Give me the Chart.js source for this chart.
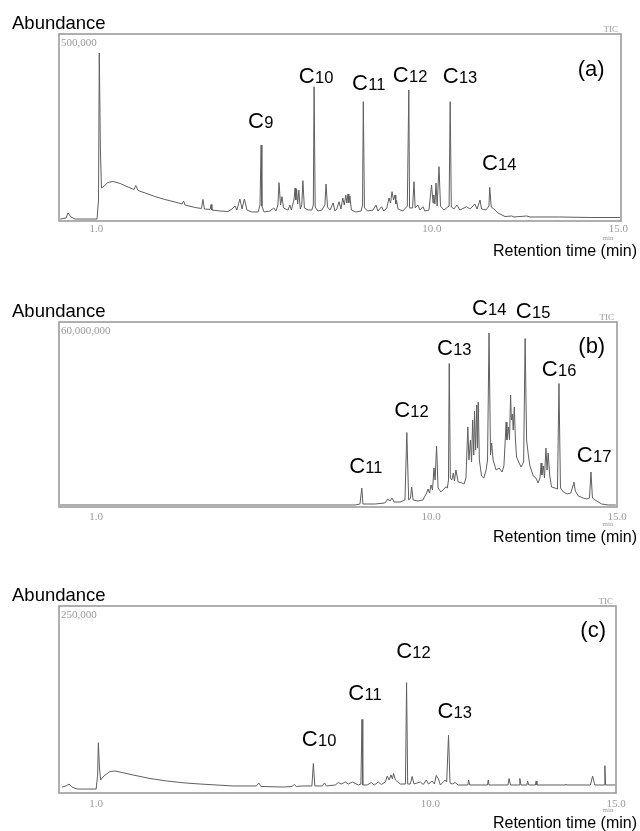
<!DOCTYPE html>
<html><head><meta charset="utf-8">
<script src="https://cdn.jsdelivr.net/npm/chart.js@4.4.0/dist/chart.umd.min.js"></script>
<style>
html,body{margin:0;padding:0;background:#fff;width:640px;height:831px;overflow:hidden}
canvas{position:absolute;left:0}
</style></head><body>
<canvas id="ca" width="640" height="280" style="top:0px"></canvas>
<canvas id="cb" width="640" height="280" style="top:285px"></canvas>
<canvas id="cc" width="640" height="261" style="top:570px"></canvas>
<script>
// ---------- DATA ----------
// x tick labels (retention time, min)
const tickMinutes = [1.0, 10.0, 15.0];

// Panel (a): abundance in thousands of counts (full scale 500,000)
const timeA = [0.03,0.19,0.24,0.32,0.43,1.02,1.06,1.08,1.11,1.14,1.21,1.31,1.45,1.64,1.85,2.01,2.06,2.12,2.31,2.57,2.84,3.11,3.30,3.34,3.38,3.65,3.82,3.86,3.90,4.05,4.08,4.10,4.32,4.53,4.64,4.72,4.77,4.85,4.91,4.97,5.04,5.17,5.34,5.39,5.42,5.44,5.50,5.66,5.76,5.82,5.87,5.90,5.94,5.98,6.02,6.14,6.19,6.23,6.30,6.33,6.35,6.37,6.40,6.43,6.47,6.51,6.54,6.58,6.68,6.78,6.82,6.84,6.87,6.94,7.05,7.13,7.16,7.20,7.27,7.35,7.40,7.45,7.51,7.56,7.61,7.65,7.69,7.72,7.75,7.77,7.80,7.84,7.96,8.10,8.14,8.16,8.19,8.28,8.42,8.50,8.55,8.65,8.71,8.79,8.85,8.89,8.93,8.97,9.01,9.03,9.05,9.09,9.22,9.34,9.38,9.40,9.48,9.52,9.55,9.62,9.68,9.76,9.81,9.92,9.99,10.03,10.05,10.08,10.11,10.14,10.19,10.23,10.32,10.46,10.49,10.52,10.59,10.67,10.75,10.93,11.02,11.10,11.15,11.21,11.29,11.33,11.45,11.53,11.55,11.59,11.66,11.77,11.96,12.14,12.20,12.54,12.63,13.43,14.24,15.04];
const abundA = [5.3,8.0,21.4,10.7,5.3,5.3,56.2,449.2,189.9,88.2,93.6,102.9,105.6,100.3,90.9,84.2,94.9,81.6,74.9,65.5,57.5,50.8,45.5,53.5,42.8,36.1,33.4,57.5,32.1,30.8,44.1,29.4,26.7,25.4,32.1,40.1,29.4,58.8,32.1,58.8,29.4,24.1,24.1,42.8,203.2,40.1,24.1,26.7,34.8,26.7,42.8,102.4,42.8,65.0,34.8,29.4,42.8,29.4,56.2,88.2,56.2,85.6,45.5,82.9,32.1,42.8,107.8,34.8,29.4,29.4,42.8,359.1,37.4,26.7,29.4,42.8,98.9,37.4,29.4,48.1,26.7,32.1,51.6,32.1,61.5,42.8,69.5,48.1,72.2,48.1,66.9,29.4,24.1,26.7,42.8,319.0,34.8,26.7,29.4,42.8,26.7,38.2,26.7,34.8,61.5,48.1,78.3,56.2,69.5,45.5,56.2,32.1,26.7,40.1,350.3,34.8,34.8,105.1,34.8,42.8,29.4,38.2,26.7,29.4,96.3,48.1,69.5,45.5,101.6,40.1,145.2,40.1,29.4,40.1,319.0,37.4,32.1,42.8,29.4,38.2,32.1,40.1,45.5,32.1,56.2,32.1,29.4,40.1,90.1,37.4,32.1,21.4,12.0,13.4,10.7,13.4,10.7,10.7,9.4,9.4];

// Panel (b): abundance in millions of counts (full scale 60,000,000)
const timeB = [0.03,3.79,6.48,7.96,8.09,8.14,8.17,8.49,8.76,8.84,8.90,8.95,9.01,9.17,9.30,9.35,9.40,9.45,9.48,9.52,9.65,9.78,9.87,9.92,9.96,10.00,10.04,10.08,10.11,10.15,10.19,10.27,10.35,10.40,10.44,10.47,10.49,10.52,10.56,10.60,10.63,10.67,10.73,10.83,10.89,10.94,10.99,11.02,11.06,11.09,11.12,11.15,11.17,11.20,11.23,11.25,11.27,11.30,11.36,11.42,11.48,11.52,11.56,11.60,11.63,11.67,11.75,11.83,11.91,11.96,12.02,12.04,12.08,12.11,12.14,12.16,12.19,12.21,12.24,12.27,12.30,12.37,12.42,12.49,12.53,12.57,12.62,12.66,12.75,12.82,12.88,12.93,12.96,12.98,13.02,13.05,13.09,13.12,13.15,13.19,13.24,13.33,13.40,13.44,13.48,13.56,13.66,13.76,13.82,13.84,13.88,13.96,14.09,14.19,14.26,14.30,14.34,14.41,14.59,14.76,14.97];
const abundB = [0.65,0.65,0.65,0.65,0.97,6.16,0.97,0.97,1.30,2.59,1.95,2.92,1.62,1.62,2.27,24.16,2.27,2.92,6.49,2.27,1.95,2.27,4.22,5.84,4.54,7.13,5.51,12.65,8.76,19.78,6.16,4.86,5.84,6.58,6.16,8.76,46.54,9.40,8.76,11.03,8.43,12.00,8.11,7.78,7.46,9.40,25.94,15.24,21.73,14.59,28.21,16.86,31.13,18.49,33.08,19.13,34.05,15.24,10.05,9.40,12.00,15.24,56.43,16.86,20.76,15.24,12.00,12.65,11.35,13.30,27.57,21.73,25.94,21.73,36.32,28.21,30.16,24.97,32.43,21.73,16.22,14.27,12.97,14.59,54.65,21.73,16.54,13.30,10.05,9.40,7.78,9.40,14.27,10.38,13.30,9.40,19.13,12.00,17.51,10.38,6.49,6.16,5.84,40.05,6.16,4.86,4.22,4.54,7.13,8.11,5.19,3.57,2.92,2.59,2.92,11.35,2.92,2.27,0.97,0.65,0.65];

// Panel (c): abundance in thousands of counts (full scale 250,000)
const timeC = [0.08,0.19,0.27,0.35,0.49,1.00,1.04,1.06,1.09,1.12,1.21,1.37,1.51,1.70,1.99,2.45,2.91,3.40,3.80,4.69,5.31,5.38,5.44,6.04,6.28,6.33,6.39,6.54,6.81,6.85,6.89,7.09,7.15,7.20,7.44,7.52,7.60,7.71,7.79,7.90,8.06,8.13,8.16,8.18,8.30,8.41,8.49,8.60,8.68,8.79,8.84,8.89,8.94,8.98,9.01,9.06,9.19,9.33,9.36,9.39,9.46,9.51,9.56,9.73,9.81,9.89,9.95,10.05,10.11,10.16,10.22,10.27,10.40,10.44,10.49,10.53,10.59,10.67,10.75,11.01,11.03,11.06,11.54,11.56,11.58,12.09,12.12,12.16,12.39,12.41,12.44,12.60,12.62,12.65,12.83,12.85,12.87,13.63,13.65,13.67,14.31,14.37,14.43,14.68,14.70,14.72,14.99];
const abundC = [8.0,9.4,12.0,8.0,5.3,5.3,24.1,67.3,33.4,17.4,22.7,28.7,29.4,27.4,24.1,19.4,16.0,13.4,12.0,9.4,9.4,13.4,8.7,8.0,8.7,11.4,8.7,9.4,9.4,39.4,9.4,9.4,13.4,9.4,10.7,14.0,12.0,14.7,12.0,14.7,10.7,12.0,98.3,10.7,10.7,14.0,10.7,14.7,11.4,14.7,22.7,17.4,24.1,18.7,26.1,17.4,12.0,12.0,147.5,12.0,12.0,22.1,12.0,14.7,11.4,17.4,12.0,16.0,12.0,23.4,18.7,10.7,17.4,14.7,77.5,13.4,12.0,14.0,10.7,10.7,17.4,10.7,10.7,17.4,10.7,10.7,19.4,10.7,10.7,19.4,10.7,10.7,16.0,10.7,10.7,16.0,10.7,10.7,12.0,10.7,10.7,22.7,10.7,10.7,36.5,10.7,10.7];

// n-alkane peak labels (carbon number) placed in data space (time, abundance)
const peaksA = [{n:'9',t:5.07,v:248.7},{n:'10',t:6.43,v:368.2},{n:'11',t:7.86,v:350.3},{n:'12',t:8.95,v:372.5},{n:'13',t:10.29,v:368.2},{n:'14',t:11.34,v:136.4}];
const peaksB = [{n:'11',t:7.80,v:11.03},{n:'12',t:9.01,v:29.19},{n:'13',t:10.16,v:49.29},{n:'14',t:11.10,v:62.27},{n:'15',t:12.28,v:61.29},{n:'16',t:12.98,v:42.48},{n:'17',t:13.92,v:14.59}];
const peaksC = [{n:'10',t:6.54,v:62.8},{n:'11',t:7.79,v:124.3},{n:'12',t:9.08,v:180.5},{n:'13',t:10.19,v:100.3}];

// ---------- DRAWING ----------
const SANS = '"Liberation Sans", Arial, Helvetica, sans-serif';
const SERIF = '"Liberation Serif", "Times New Roman", serif';

const panelText = {
  id: 'panelText',
  afterDraw(chart) {
    const o = chart.options.plugins.panelText;
    const {ctx, chartArea: a, scales: {x, y}} = chart;
    ctx.save();
    // frame
    ctx.strokeStyle = '#9c9c9c';
    ctx.lineWidth = 1.6;
    ctx.strokeRect(a.left, a.top, a.right - a.left, a.bottom - a.top);
    // full-scale value
    ctx.fillStyle = '#9a9a9a';
    ctx.font = '11px ' + SERIF;
    ctx.textBaseline = 'top';
    ctx.textAlign = 'left';
    ctx.fillText(o.fullScale, a.left + 2, a.top + 4);
    // TIC
    ctx.textBaseline = 'alphabetic';
    ctx.textAlign = 'right';
    ctx.font = '9px ' + SERIF;
    ctx.fillText('TIC', a.right - 3, a.top - 2);
    // min
    ctx.textAlign = 'center';
    ctx.font = '7px ' + SERIF;
    ctx.fillText('min', 608, a.bottom + 19);
    // axis titles
    ctx.fillStyle = '#000';
    ctx.textAlign = 'left';
    ctx.font = '18.5px ' + SANS;
    ctx.fillText('Abundance', 12, a.top - 5);
    ctx.textAlign = 'right';
    ctx.font = '16px ' + SANS;
    ctx.fillText('Retention time (min)', 637, a.bottom + 35);
    // panel tag
    ctx.textAlign = 'left';
    ctx.font = '22px ' + SANS;
    ctx.fillText(o.tag.text, x.getPixelForValue(o.tag.t), y.getPixelForValue(o.tag.v));
    // peak labels
    o.peaks.forEach(p => {
      const px = x.getPixelForValue(p.t), py = y.getPixelForValue(p.v);
      ctx.font = '22px ' + SANS;
      ctx.fillText('C', px, py);
      const w = ctx.measureText('C').width;
      ctx.font = '16.5px ' + SANS;
      ctx.fillText(p.n, px + w + 0.3, py);
    });
    ctx.restore();
  }
};

function makePanel(id, times, values, cfg) {
  const pts = times.map((t, i) => ({x: t, y: values[i]}));
  return new Chart(document.getElementById(id), {
    type: 'line',
    data: {datasets: [{data: pts, borderColor: '#5e5e5e', borderWidth: 1, pointRadius: 0, tension: 0, fill: false}]},
    plugins: [panelText],
    options: {
      responsive: false, animation: false, events: [],
      layout: {padding: cfg.padding},
      plugins: {legend: {display: false}, tooltip: {enabled: false},
        panelText: {fullScale: cfg.fullScale, tag: cfg.tag, peaks: cfg.peaks}},
      scales: {
        x: {type: 'linear', min: 0, max: cfg.xMax,
          afterBuildTicks: ax => { ax.ticks = tickMinutes.map(v => ({value: v})); },
          afterFit: ax => { ax.height = 20; },
          grid: {display: false, drawTicks: false}, border: {display: false},
          ticks: {autoSkip: false, maxRotation: 0, padding: cfg.tickPad, color: '#9a9a9a',
            font: {family: SERIF, size: 11}, callback: v => Number(v).toFixed(1)}},
        y: {display: false, min: 0, max: cfg.yMax}
      }
    }
  });
}

makePanel('ca', timeA, abundA, {xMax: 15.07, yMax: 500, fullScale: '500,000', tickPad: 2,
  padding: {left: 59, right: 19, top: 34, bottom: 39},
  tag: {text: '(a)', t: 13.91, v: 389}, peaks: peaksA});
makePanel('cb', timeB, abundB, {xMax: 15.0, yMax: 60, fullScale: '60,000,000', tickPad: 4,
  padding: {left: 59, right: 23, top: 37, bottom: 38},
  tag: {text: '(b)', t: 13.96, v: 49.8}, peaks: peaksB});
makePanel('cc', timeC, abundC, {xMax: 15.0, yMax: 250, fullScale: '250,000', tickPad: 5,
  padding: {left: 59, right: 24, top: 36, bottom: 18},
  tag: {text: '(c)', t: 14.04, v: 208.6}, peaks: peaksC});
</script>
</body></html>
